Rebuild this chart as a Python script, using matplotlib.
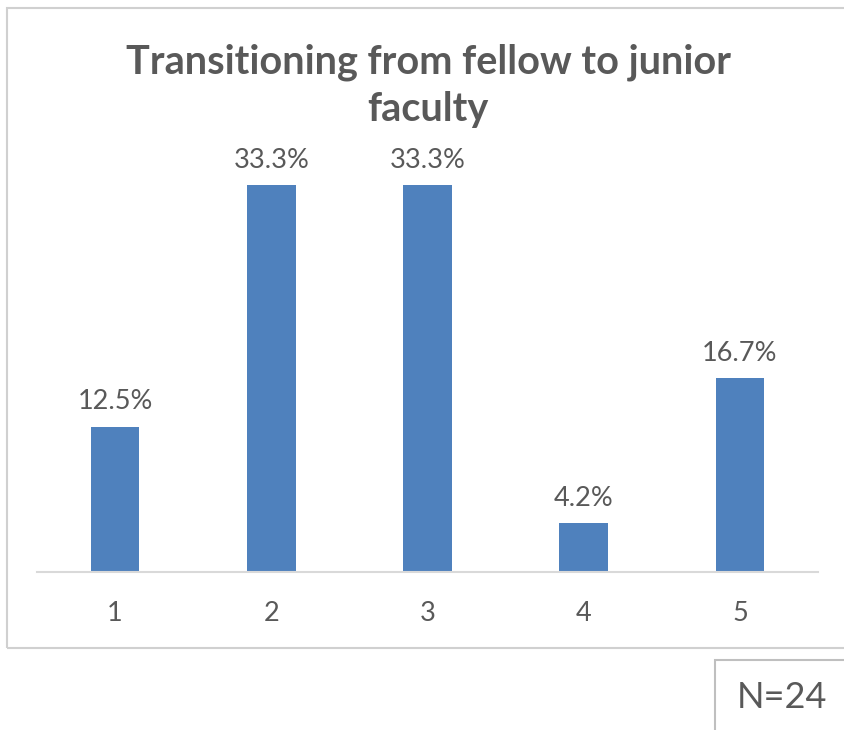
import matplotlib.pyplot as plt
from matplotlib.patches import Rectangle

categories = ['1', '2', '3', '4', '5']
percent = [12.5, 33.3, 33.3, 4.2, 16.7]
labels = ['12.5%', '33.3%', '33.3%', '4.2%', '16.7%']
title = 'Transitioning from fellow to junior\nfaculty'
note = 'N=24'

W, H = 844, 730
plt.rcParams['font.family'] = ['Lato', 'DejaVu Sans']
TXT = '#595959'
BAR = '#4F81BD'

fig = plt.figure(figsize=(W / 100, H / 100), dpi=100, facecolor='white')

# chart frame (cut off at right edge) and the N box
fig.patches.append(Rectangle((7 / W, 1 - 648 / H), 900 / W, 640 / H, transform=fig.transFigure,
                             fill=False, edgecolor='#d0d0d0', linewidth=1.5))
fig.patches.append(Rectangle((715 / W, 1 - 760 / H), 200 / W, 100 / H, transform=fig.transFigure,
                             fill=False, edgecolor='#bfbfbf', linewidth=1.5))
fig.text(782 / W, 1 - 698 / H, note, ha='center', va='center', fontsize=26, color=TXT)

# plot area in pixels: x 37..818, baseline at 572
top = 154
ax = fig.add_axes([37 / W, 1 - 572 / H, (818 - 37) / W, (572 - top) / H])
x = range(1, len(categories) + 1)
ax.bar(x, percent, width=0.31, color=BAR)
ax.set_xlim(0.5, 5.5)
ax.set_ylim(0, 36)
for xi, v, lab in zip(x, percent, labels):
    ax.annotate(lab, (xi, v), xytext=(0, 9), textcoords='offset points',
                ha='center', va='bottom', fontsize=19.5, color=TXT)
ax.set_xticks(list(x), categories)
ax.tick_params(axis='x', length=0, pad=21, labelsize=19.5, labelcolor=TXT)
ax.set_yticks([])
for s in ['top', 'right', 'left']:
    ax.spines[s].set_visible(False)
ax.spines['bottom'].set_color('#d9d9d9')
ax.spines['bottom'].set_linewidth(1.5)
ax.set_facecolor('none')

fig.text(428 / W, 1 - 86 / H, title, ha='center', va='center', fontsize=28.5,
         fontweight='bold', color=TXT, linespacing=1.33)

fig.savefig('out.png', dpi=100)
